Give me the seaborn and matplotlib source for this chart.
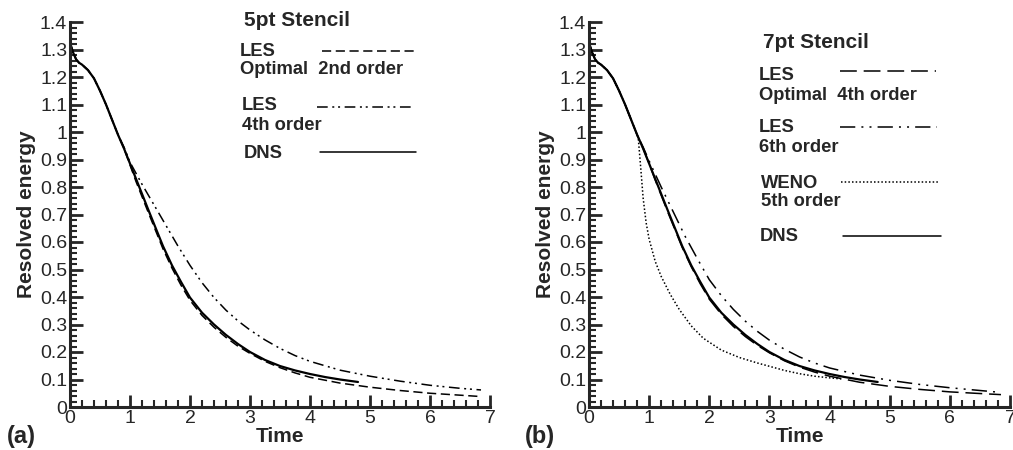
import matplotlib
matplotlib.use('Agg')
import matplotlib.pyplot as plt
import seaborn as sns
import numpy as np
import pandas as pd
from matplotlib.ticker import MultipleLocator, FuncFormatter
from matplotlib.lines import Line2D

# shared start of every curve (all runs sit on top of DNS early on)
t_early = [0, 0.05, 0.1, 0.15, 0.2, 0.3, 0.4, 0.5, 0.6, 0.7, 0.8]
e_early = [1.325, 1.29, 1.265, 1.252, 1.245, 1.225, 1.195, 1.15, 1.10, 1.045, 0.99]

t_dns = [0.9, 1.0, 1.1, 1.2, 1.3, 1.42, 1.55, 1.7, 1.85, 2.0, 2.2, 2.4, 2.6, 2.8,
         3.0, 3.25, 3.5, 3.75, 4.0, 4.25, 4.5, 4.8]
e_dns = [0.94, 0.885, 0.83, 0.775, 0.72, 0.655, 0.585, 0.515, 0.455, 0.398, 0.343,
         0.300, 0.262, 0.229, 0.20, 0.171, 0.149, 0.133, 0.12, 0.109, 0.10, 0.091]

t_long = [0.9, 1.0, 1.1, 1.2, 1.3, 1.42, 1.55, 1.7, 1.85, 2.0, 2.2, 2.4, 2.6, 2.8,
          3.0, 3.25, 3.5, 3.75, 4.0, 4.5, 5.0, 5.5, 6.0, 6.5, 6.85]
e_opt2 = [0.94, 0.88, 0.82, 0.765, 0.71, 0.645, 0.575, 0.505, 0.443, 0.388, 0.333,
          0.29, 0.253, 0.221, 0.195, 0.166, 0.143, 0.124, 0.108, 0.087, 0.072, 0.06,
          0.05, 0.043, 0.038]
e_opt4 = [0.94, 0.885, 0.826, 0.77, 0.714, 0.65, 0.58, 0.51, 0.448, 0.392, 0.337,
          0.293, 0.256, 0.224, 0.197, 0.168, 0.145, 0.127, 0.112, 0.09, 0.075, 0.064,
          0.055, 0.049, 0.045]

t_ho = [0.9, 1.0, 1.2, 1.4, 1.6, 1.8, 2.0, 2.2, 2.4, 2.6, 2.8, 3.0, 3.25, 3.5, 3.75,
        4.0, 4.5, 5.0, 5.5, 6.0, 6.5, 6.85]
e_les4 = [0.945, 0.89, 0.81, 0.735, 0.66, 0.585, 0.515, 0.452, 0.398, 0.352, 0.313,
          0.28, 0.244, 0.213, 0.187, 0.166, 0.134, 0.112, 0.094, 0.079, 0.068, 0.062]
e_les6 = [0.945, 0.895, 0.80, 0.71, 0.62, 0.54, 0.463, 0.405, 0.355, 0.312, 0.275,
          0.243, 0.21, 0.182, 0.16, 0.142, 0.116, 0.097, 0.082, 0.07, 0.06, 0.053]

t_weno = [0.82, 0.86, 0.9, 0.95, 1.0, 1.1, 1.2, 1.35, 1.5, 1.7, 1.9, 2.2, 2.5, 2.8,
          3.0, 3.25, 3.5, 3.75, 4.0, 4.2]
e_weno = [0.975, 0.87, 0.76, 0.67, 0.61, 0.53, 0.475, 0.41, 0.355, 0.295, 0.25,
          0.207, 0.18, 0.16, 0.148, 0.133, 0.121, 0.112, 0.106, 0.102]

sns.set_style('ticks')
plt.rcParams['font.family'] = ['Liberation Sans', 'DejaVu Sans']

W, H = 1013, 450
fig = plt.figure(figsize=(W / 100, H / 100), dpi=100)


def px(x, y):
    return x / W, 1 - y / H


def curve(ax, t, e, ls, lw=1.1):
    df = pd.DataFrame({'Time': t_early + t, 'E': e_early + e})
    sns.lineplot(data=df, x='Time', y='E', ax=ax, color='black', linewidth=lw,
                 linestyle=ls, estimator=None, sort=False)


def style_axes(ax):
    ax.set_xlim(0, 7)
    ax.set_ylim(0, 1.4)
    for s in ['top', 'right']:
        ax.spines[s].set_visible(False)
    for s in ['left', 'bottom']:
        ax.spines[s].set_linewidth(2.2)
    ax.xaxis.set_major_locator(MultipleLocator(1))
    ax.xaxis.set_minor_locator(MultipleLocator(0.2))
    ax.yaxis.set_major_locator(MultipleLocator(0.1))
    ax.yaxis.set_minor_locator(MultipleLocator(0.02))
    ax.yaxis.set_major_formatter(FuncFormatter(lambda v, p: f'{v:g}'))
    ax.tick_params(which='major', direction='in', length=9, width=2, labelsize=14,
                   pad=2)
    ax.tick_params(which='minor', direction='in', length=5, width=1.5)
    ax.set_xlabel('Time', fontsize=15, fontweight='bold', labelpad=0)
    ax.set_ylabel('Resolved energy', fontsize=15, fontweight='bold', labelpad=3)
    ax.patch.set_alpha(0)


dash_a = (0, (6, 3))
dash_b = (0, (11, 4.5))
dadd_a = (0, (7, 3, 1.3, 2.5, 1.3, 3))
dadd_b = (0, (10, 4, 1.3, 4, 1.3, 4))
dots = (0, (1, 1.4))

# panel (a)
ax1 = fig.add_axes([70 / W, 43 / H, 420 / W, 385 / H])
curve(ax1, t_long, e_opt2, dash_a)
curve(ax1, t_ho, e_les4, dadd_a)
curve(ax1, t_dns, e_dns, '-', lw=1.6)
style_axes(ax1)

# panel (b)
ax2 = fig.add_axes([589 / W, 43 / H, 421 / W, 385 / H])
curve(ax2, t_long, e_opt4, dash_b)
curve(ax2, t_ho, e_les6, dadd_b)
curve(ax2, t_weno, e_weno, dots)
curve(ax2, t_dns, e_dns, '-', lw=1.6)
style_axes(ax2)


def label(x, y, s, size=13.2):
    fig.text(*px(x, y), s, fontsize=size, fontweight='bold', ha='left', va='center')


def key(x0, x1, y, ls, lw=1.1):
    fig.add_artist(Line2D([x0 / W, x1 / W], [1 - y / H] * 2, color='black',
                          linewidth=lw, linestyle=ls))


label(244, 20, '5pt Stencil', 15)
label(240, 51, 'LES')
label(240, 70, 'Optimal  2nd order')
key(322, 418, 51, dash_a)
label(242, 106, 'LES')
label(242, 125, '4th order')
key(317, 413, 107, dadd_a)
label(244, 154, 'DNS')
key(320, 416, 152, '-')

label(763, 43, '7pt Stencil', 15)
label(759, 76, 'LES')
label(759, 96, 'Optimal  4th order')
key(840, 936, 71, dash_b)
label(759, 128, 'LES')
label(759, 147, '6th order')
key(840, 937, 127, dadd_b)
label(761, 183, 'WENO')
label(761, 202, '5th order')
key(841, 938, 182, dots)
label(760, 236, 'DNS')
key(843, 941, 236, '-')

label(7, 437, '(a)', 17)
label(525, 437, '(b)', 17)

fig.savefig('out.png', dpi=100)
